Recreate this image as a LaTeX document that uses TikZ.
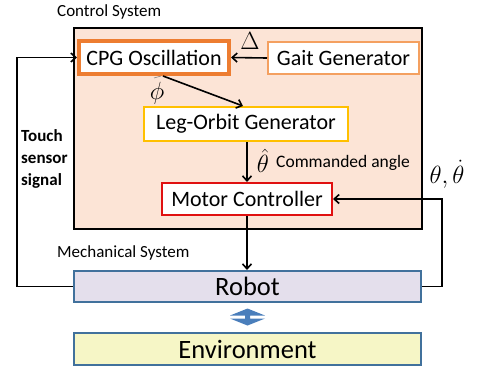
\documentclass[tikz,border=0pt]{standalone}
\usepackage{fontspec}
\setmainfont{Carlito}
\usetikzlibrary{arrows.meta,positioning}
\definecolor{peach}{HTML}{FCE4D6}
\definecolor{cpgor}{HTML}{ED7D31}
\definecolor{gaitor}{HTML}{F4A060}
\definecolor{gold}{HTML}{FFC000}
\definecolor{mred}{HTML}{E01010}
\definecolor{lav}{HTML}{E4DFEC}
\definecolor{sblue}{HTML}{41719C}
\definecolor{pyellow}{HTML}{F6F6C6}
\definecolor{barrow}{HTML}{4A7EBB}
\begin{document}
\begin{tikzpicture}[x=1pt,y=-1pt,
  box/.style={draw, fill=white, line width=2pt, inner sep=0pt, font=\fontsize{22}{24}\selectfont},
  wide/.style={draw=sblue, line width=2pt, inner sep=0pt, minimum width=347pt, font=\fontsize{26.5}{28}\selectfont},
  conn/.style={line width=1.6pt, -{Straight Barb[length=5pt,width=9pt,line width=1.6pt]}},
  lbl/.style={inner sep=0pt}
]
\useasboundingbox (0,0) rectangle (478,373);
% control system box
\node[draw=black, fill=peach, line width=2pt, minimum width=348pt, minimum height=201pt, inner sep=0pt] (ctrl) at (248,128.5) {};
\node[lbl, anchor=west, font=\fontsize{17}{19}\selectfont] (ctrltitle) at (57,12) {Control System};
% boxes
\node[box, draw=cpgor, line width=4pt, minimum width=150pt, minimum height=33pt] (cpg) at (154,57.5) {CPG Oscillation};
\node[box, draw=gaitor, minimum width=151pt, minimum height=32pt] (gait) at (343.5,58) {Gait Generator};
\node[box, draw=gold, minimum width=204pt, minimum height=34pt] (leg) at (246,124) {Leg-Orbit Generator};
\node[box, draw=mred, minimum width=170pt, minimum height=32pt] (motor) at (247,199) {Motor Controller};
\node[wide, fill=lav, minimum height=31pt] (robot) at (247.5,286.5) {Robot};
\node[wide, fill=pyellow, minimum height=32pt] (env) at (247.5,349) {Environment};
% labels
\node[lbl, font=\fontsize{25}{27}\selectfont] (delta) at (250,41) {$\Delta$};
\node[lbl, font=\fontsize{26}{28}\selectfont] (phi) at (157,93) {$\phi$};
\node[lbl, font=\fontsize{24}{26}\selectfont] (thhat) at (263,161) {$\hat\theta$};
\node[lbl, anchor=west, font=\fontsize{17.5}{19}\selectfont] (cmd) at (276,163) {Commanded angle};
\node[lbl, font=\fontsize{27}{29}\selectfont] (thetas) at (447,174) {$\theta,\dot\theta$};
\node[lbl, anchor=west, font=\fontsize{17}{19}\selectfont] (mech) at (57,253) {Mechanical System};
\node[lbl, anchor=north west, align=left, font=\bfseries\fontsize{17}{22}\selectfont] (touch) at (21,129) {Touch\\sensor\\signal};
% phi leader line
\draw[gray, line width=0.6pt] ([xshift=7pt]cpg.south) -- ([xshift=-3pt,yshift=15pt]phi.center);
% connectors
\draw[conn] (gait.west) -- (cpg.east);
\draw[conn] ([xshift=9pt]cpg.south) -- ([xshift=-3pt]leg.north);
\draw[conn] ([xshift=1pt]leg.south) -- (motor.north);
\draw[conn] (motor.south) -- (motor.south |- robot.north);
\draw[conn] (robot.east) -- ++(20,0) |- (motor.east);
\draw[conn] (robot.west) -- ++(-56,0) |- (cpg.west);
% block double arrow between robot and environment
\fill[barrow] (230,315.5) -- (247.5,308.5) -- (265,315.5) -- (250,315.5) -- (250,318.5) -- (265,318.5) -- (247.5,325.5) -- (230,318.5) -- (245,318.5) -- (245,315.5) -- cycle;
\end{tikzpicture}
\end{document}
